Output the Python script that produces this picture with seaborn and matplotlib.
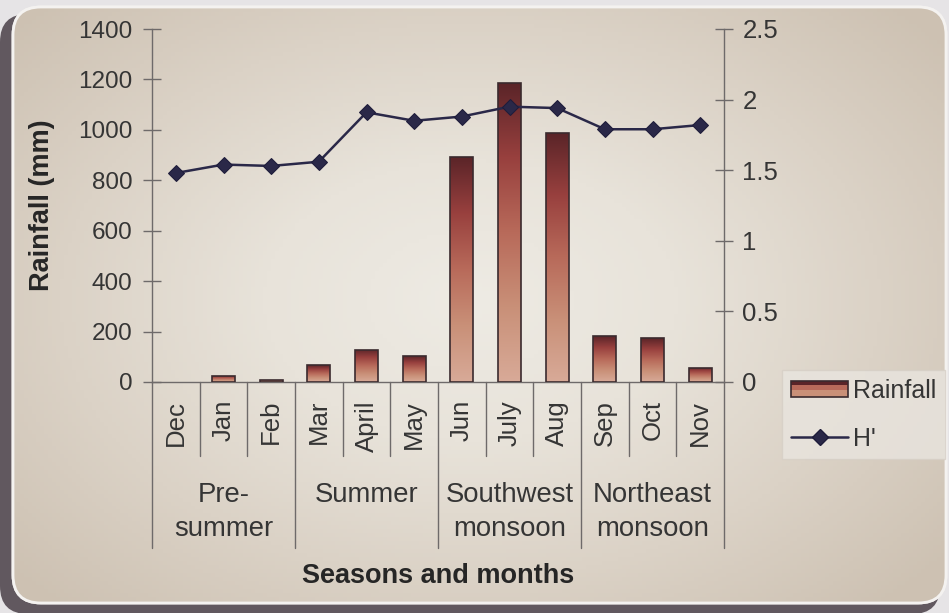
import numpy as np
import pandas as pd
import matplotlib
matplotlib.use("Agg")
import matplotlib.pyplot as plt
import seaborn as sns
from matplotlib.colors import LinearSegmentedColormap
from matplotlib.patches import FancyBboxPatch, Patch, Rectangle
from matplotlib.lines import Line2D
from matplotlib.legend_handler import HandlerBase
from matplotlib.transforms import blended_transform_factory

# Monthly data
months = ["Dec", "Jan", "Feb", "Mar", "April", "May",
          "Jun", "July", "Aug", "Sep", "Oct", "Nov"]
rainfall_mm = [0, 25, 9, 67, 127, 103, 894, 1186, 988, 182, 173, 57]
diversity_h = [1.48, 1.54, 1.53, 1.56, 1.91, 1.85, 1.88, 1.95, 1.94, 1.79, 1.79, 1.82]

# Seasons grouping
seasons = ["Pre-\nsummer", "Summer", "Southwest\nmonsoon", "Northeast\nmonsoon"]
season_sizes = [3, 3, 3, 3]

left_ticks = [0, 200, 400, 600, 800, 1000, 1200, 1400]
right_ticks = [0, 0.5, 1, 1.5, 2, 2.5]
right_tick_labels = ["0", "0.5", "1", "1.5", "2", "2.5"]

sns.set_theme(style="white")
plt.rcParams["font.family"] = ["Liberation Sans", "DejaVu Sans"]

W, H = 949, 613
fig = plt.figure(figsize=(W / 100, H / 100), dpi=100)
fig.patch.set_facecolor("#e6e4e6")

text_color = "#353535"
bar_edge = "#3a2a2e"
bar_stops = ["#d8aa98", "#c99078", "#b86a5a", "#98403e", "#5a2428"]

# Card background with shadow and soft beige gradient
bg = fig.add_axes([0, 0, 1, 1], zorder=-10)
bg.set_xlim(0, W)
bg.set_ylim(H, 0)
bg.axis("off")
shadow = FancyBboxPatch((0, 14), 940, 600, boxstyle="round,pad=0,rounding_size=28",
                        facecolor="#4a4048", edgecolor="none", alpha=0.85)
bg.add_patch(shadow)
card = FancyBboxPatch((13, 7), 933, 596, boxstyle="round,pad=0,rounding_size=28",
                      facecolor="#ddd6cc", edgecolor="#f4f2f0", linewidth=2)
bg.add_patch(card)
yy, xx = np.mgrid[0:H:4, 0:W:4]
r = np.sqrt(((xx - 470) / 560.0) ** 2 + ((yy - 300) / 380.0) ** 2)
card_cmap = LinearSegmentedColormap.from_list(
    "card", ["#eeebe4", "#e8e3da", "#dbd2c6", "#cdc1b2"])
im = bg.imshow(r, cmap=card_cmap, vmin=0, vmax=1.1, extent=(0, W, H, 0),
               aspect="auto", zorder=1)
im.set_clip_path(card)
edge = FancyBboxPatch((13, 7), 933, 596, boxstyle="round,pad=0,rounding_size=28",
                      facecolor="none", edgecolor="#f4f2f0", linewidth=2, zorder=2)
bg.add_patch(edge)

# Main axes placed in pixel geometry
x0, x1 = 152, 724
y_top, y_bot = 29, 382
ax = fig.add_axes([x0 / W, 1 - y_bot / H, (x1 - x0) / W, (y_bot - y_top) / H])
ax.patch.set_alpha(0)

df = pd.DataFrame({"month": months, "rain": rainfall_mm, "h": diversity_h})

sns.barplot(data=df, x="month", y="rain", ax=ax, width=0.48,
            color="#b06050", edgecolor=bar_edge, linewidth=1.2, zorder=3)

bar_cmap = LinearSegmentedColormap.from_list("bar", bar_stops)
grad = np.linspace(0, 1, 256).reshape(-1, 1)
for p in ax.patches:
    h = p.get_height()
    if h <= 0:
        p.set_visible(False)
        continue
    bx = p.get_x()
    bw = p.get_width()
    gim = ax.imshow(grad, cmap=bar_cmap, origin="lower", aspect="auto",
                    extent=(bx, bx + bw, 0, h), zorder=2.9)
    gim.set_clip_path(p)
    p.set_facecolor("none")

ax.set_xlim(-0.5, len(months) - 0.5)
ax.set_ylim(0, 1400)
ax.set_yticks(left_ticks)
ax.set_yticklabels([str(t) for t in left_ticks])
ax.set_xticks([])
ax.set_xlabel("")
ax.set_ylabel("")

axis_color = "#6e6a6a"
for s in ["top", "right"]:
    ax.spines[s].set_visible(False)
ax.spines["left"].set_color(axis_color)
ax.spines["bottom"].set_color(axis_color)
ax.spines["left"].set_linewidth(1.0)
ax.spines["bottom"].set_linewidth(1.0)
ax.tick_params(axis="y", direction="inout", length=12.5, width=1.0, color=axis_color,
               labelsize=17.5, labelcolor=text_color, pad=8, left=True)

# Diversity index on the secondary axis
ax2 = ax.twinx()
sns.lineplot(data=df, x="month", y="h", ax=ax2, color="#2a2848", linewidth=1.8,
             marker="D", markersize=8, markeredgecolor="#1e1c3a",
             sort=False, zorder=5)
ax2.set_ylim(0, 2.5)
ax2.set_yticks(right_ticks)
ax2.set_yticklabels(right_tick_labels)
ax2.set_ylabel("")
ax2.set_xlabel("")
for s in ["top", "left", "bottom"]:
    ax2.spines[s].set_visible(False)
ax2.spines["right"].set_color(axis_color)
ax2.spines["right"].set_linewidth(1.0)
ax2.tick_params(axis="y", direction="inout", length=12.5, width=1.0, color=axis_color,
                labelsize=18.5, labelcolor=text_color, pad=7, right=True)
ax2.grid(False)
ax.grid(False)
ax2.set_xlim(-0.5, len(months) - 0.5)

# Category axis: month labels, month dividers and season groups
trans = blended_transform_factory(ax.transData, fig.transFigure)
def fy(py):
    return 1 - py / H

for i, m in enumerate(months):
    ax.text(i, fy(400), m, rotation=90, ha="center", va="top", fontsize=18.5,
            color=text_color, transform=trans)

boundaries = np.cumsum([0] + season_sizes)
for i in range(len(months) + 1):
    is_group = i in boundaries
    y_end = 548 if is_group else 456
    ax.plot([i - 0.5, i - 0.5], [fy(382), fy(y_end)], color=axis_color,
            linewidth=1.0, transform=trans, clip_on=False)

for k, label in enumerate(seasons):
    center = boundaries[k] + season_sizes[k] / 2 - 0.5
    ax.text(center, fy(482), label, ha="center", va="top", fontsize=19.8,
            color=text_color, linespacing=1.42, transform=trans)

fig.text((x0 + x1) / 2 / W, fy(576), "Seasons and months", ha="center",
         va="center", fontsize=19.5, fontweight="bold", color="#262626")
fig.text(42 / W, fy((y_top + y_bot) / 2), "Rainfall (mm)", rotation=90,
         ha="center", va="center", fontsize=19.5, fontweight="bold", color="#262626")


class ShadedBarHandler(HandlerBase):
    """Legend key drawn as a banded bar: dark top, red middle, light base."""

    def create_artists(self, legend, orig_handle, xdescent, ydescent,
                       width, height, fontsize, trans):
        x, y = -xdescent, -ydescent
        bands = [bar_stops[1], bar_stops[2], bar_stops[4]]
        fracs = [0.45, 0.3, 0.25]
        artists = []
        yb = y
        for c, f in zip(bands, fracs):
            artists.append(Rectangle((x, yb), width, height * f, facecolor=c,
                                     edgecolor="none", transform=trans))
            yb += height * f
        artists.append(Rectangle((x, y), width, height, facecolor="none",
                                 edgecolor=bar_edge, linewidth=1.2, transform=trans))
        return artists


# Legend
handles = [Patch(facecolor="#b86a5a", edgecolor=bar_edge, linewidth=1.2),
           Line2D([0], [0], color="#2a2848", linewidth=1.8, marker="D",
                  markersize=8, markeredgecolor="#1e1c3a")]
leg = fig.legend(handles, ["Rainfall", "H'"], loc="upper left",
                 bbox_to_anchor=(782 / W, fy(370)), frameon=True, fontsize=18,
                 handlelength=2.3, handleheight=0.65, handletextpad=0.2,
                 labelspacing=0.95, borderpad=0.35, fancybox=False,
                 borderaxespad=0, handler_map={Patch: ShadedBarHandler()})
leg.get_frame().set_facecolor("#e9e5df")
leg.get_frame().set_edgecolor("#d6cfc6")
for t in leg.get_texts():
    t.set_color(text_color)

fig.savefig("out.png", dpi=100, facecolor=fig.get_facecolor())
